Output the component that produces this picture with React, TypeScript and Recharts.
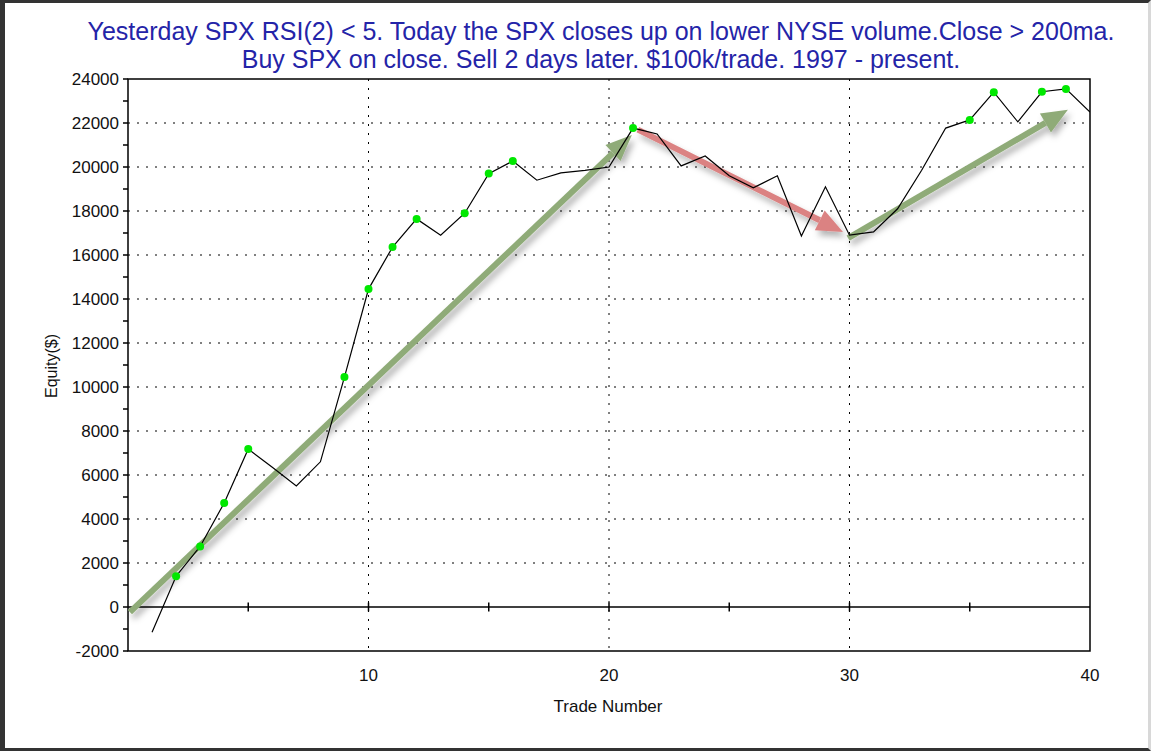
import React from 'react'
import {
  ComposedChart,
  Line,
  XAxis,
  YAxis,
  CartesianGrid,
  ReferenceLine,
  ReferenceArea,
} from 'recharts'

const TITLE = [
  'Yesterday SPX RSI(2) < 5. Today the SPX closes up on lower NYSE volume.Close > 200ma.',
  'Buy SPX on close. Sell 2 days later. $100k/trade. 1997 - present.',
]

// equity after each trade
const equity = [
  -1150, 1400, 2750, 4730, 7180, 6350, 5500, 6600, 10450, 14450,
  16360, 17640, 16900, 17900, 19700, 20270, 19400, 19730, 19850, 20000,
  21770, 21500, 20050, 20500, 19600, 19050, 19600, 16860, 19100, 16900,
  17050, 18100, 19850, 21770, 22140, 23400, 22050, 23420, 23550, 22500,
]

// trades that set a new equity high (green dots)
const newHighs = [2, 3, 4, 5, 9, 10, 11, 12, 14, 15, 16, 21, 35, 36, 38, 39]

const xTicks = [10, 20, 30, 40]
const xMinorTicks = [5, 10, 15, 20, 25, 30, 35]
const yTicks = [
  -2000, -1000, 0, 1000, 2000, 3000, 4000, 5000, 6000, 7000, 8000, 9000, 10000,
  11000, 12000, 13000, 14000, 15000, 16000, 17000, 18000, 19000, 20000, 21000,
  22000, 23000, 24000,
]
const yGrid = [2000, 4000, 6000, 8000, 10000, 12000, 14000, 16000, 18000, 20000, 22000]
const xGrid = [10, 20, 30]

// annotation arrows: [fromTrade, fromEquity, toTrade, toEquity, colour]
const arrows: [number, number, number, number, string][] = [
  [0.08, -230, 20.95, 21450, '#8fab78'],
  [21.2, 21700, 29.73, 17050, '#db8282'],
  [29.94, 16770, 39.08, 22600, '#8fab78'],
]

const data = equity.map((v, i) => ({
  trade: i + 1,
  equity: v,
  hi: newHighs.includes(i + 1) ? v : null,
}))

const FONT = '"Liberation Sans", Arial, sans-serif'

function Arrow(props: any) {
  const { x1, y1, x2, y2, color } = props
  const dx = x2 - x1
  const dy = y2 - y1
  const len = Math.sqrt(dx * dx + dy * dy)
  const ux = dx / len
  const uy = dy / len
  const head = 26
  const half = 11
  const bx = x2 - ux * head
  const by = y2 - uy * head
  const px = -uy
  const py = ux
  const pts = `${x2},${y2} ${bx + px * half},${by + py * half} ${bx - px * half},${by - py * half}`
  return (
    <g filter="url(#arrowShadow)">
      <line x1={x1} y1={y1} x2={bx} y2={by} stroke={color} strokeWidth={6} />
      <polygon points={pts} fill={color} />
    </g>
  )
}

function YTick(props: any) {
  const { x, y, payload } = props
  if (payload.value % 2000 !== 0) return <g />
  return (
    <text x={x} y={y} dy={6} textAnchor="end" fontSize={17} fill="#111" fontFamily={FONT}>
      {payload.value}
    </text>
  )
}

export default function App() {
  return (
    <div style={{ position: 'absolute', left: 0, top: 0, width: 1151, height: 751, background: '#fff', fontFamily: FONT }}>
      <div
        style={{
          position: 'absolute',
          left: 0,
          top: 17,
          width: 1202,
          textAlign: 'center',
          fontSize: 25,
          lineHeight: '28px',
          color: '#2424a8',
        }}
      >
        {TITLE.map((t) => (
          <div key={t}>{t}</div>
        ))}
      </div>

      <div style={{ position: 'absolute', left: 0, top: 0 }}>
        <ComposedChart
          width={1151}
          height={751}
          data={data}
          margin={{ top: 79, right: 61, bottom: 70, left: 68 }}
        >
          <defs>
            <filter id="arrowShadow" x="-20%" y="-20%" width="140%" height="140%">
              <feDropShadow dx="3" dy="5" stdDeviation="3" floodColor="#000" floodOpacity="0.3" />
            </filter>
          </defs>
          <CartesianGrid
            stroke="#000"
            strokeDasharray="2 7"
            horizontalValues={yGrid}
            verticalValues={xGrid}
          />
          <XAxis
            dataKey="trade"
            type="number"
            domain={[0, 40]}
            ticks={xTicks}
            tickLine={false}
            axisLine={false}
            tickSize={6}
            tickMargin={12}
            tick={{ fontSize: 17, fill: '#111', fontFamily: FONT }}
            allowDataOverflow
          />
          <YAxis
            type="number"
            domain={[-2000, 24000]}
            ticks={yTicks}
            interval={0}
            width={60}
            tickSize={5}
            tickMargin={4}
            tickLine={{ stroke: '#000', strokeWidth: 1.5 }}
            axisLine={false}
            tick={<YTick />}
            allowDataOverflow
          />
          <ReferenceArea x1={0} x2={40} y1={-2000} y2={24000} fill="none" stroke="#000" strokeWidth={1.5} ifOverflow="visible" />
          <ReferenceLine y={0} stroke="#000" strokeWidth={1.5} />
          {xMinorTicks.map((t) => (
            <ReferenceLine
              key={'xt' + t}
              segment={[{ x: t, y: -200 }, { x: t, y: 200 }]}
              stroke="#000"
              strokeWidth={1.5}
            />
          ))}
          {arrows.map(([ax, ay, bx, by, c], i) => (
            <ReferenceLine
              key={'ar' + i}
              segment={[{ x: ax, y: ay }, { x: bx, y: by }]}
              ifOverflow="visible"
              shape={(p: any) => <Arrow {...p} color={c} />}
            />
          ))}
          <Line
            dataKey="equity"
            type="linear"
            stroke="#000"
            strokeWidth={1.2}
            dot={false}
            isAnimationActive={false}
          />
          <Line
            dataKey="hi"
            type="linear"
            stroke="none"
            dot={{ r: 4, fill: '#00e800', stroke: 'none' }}
            activeDot={false}
            isAnimationActive={false}
          />
        </ComposedChart>
      </div>

      <div
        style={{
          position: 'absolute',
          left: 52,
          top: 366,
          transform: 'translate(-50%, -50%) rotate(-90deg)',
          fontSize: 16,
          color: '#111',
          whiteSpace: 'nowrap',
        }}
      >
        Equity($)
      </div>
      <div
        style={{
          position: 'absolute',
          left: 608,
          top: 707,
          transform: 'translate(-50%, -50%)',
          fontSize: 17,
          color: '#111',
          whiteSpace: 'nowrap',
        }}
      >
        Trade Number
      </div>

      <div
        style={{
          position: 'absolute',
          left: 0,
          top: 0,
          width: 1151,
          height: 751,
          boxSizing: 'border-box',
          borderTop: '3px solid #333',
          borderLeft: '5px solid #333',
          borderBottom: '3px solid #333',
          borderRight: '3px solid #d8d8d8',
          pointerEvents: 'none',
        }}
      />
    </div>
  )
}
